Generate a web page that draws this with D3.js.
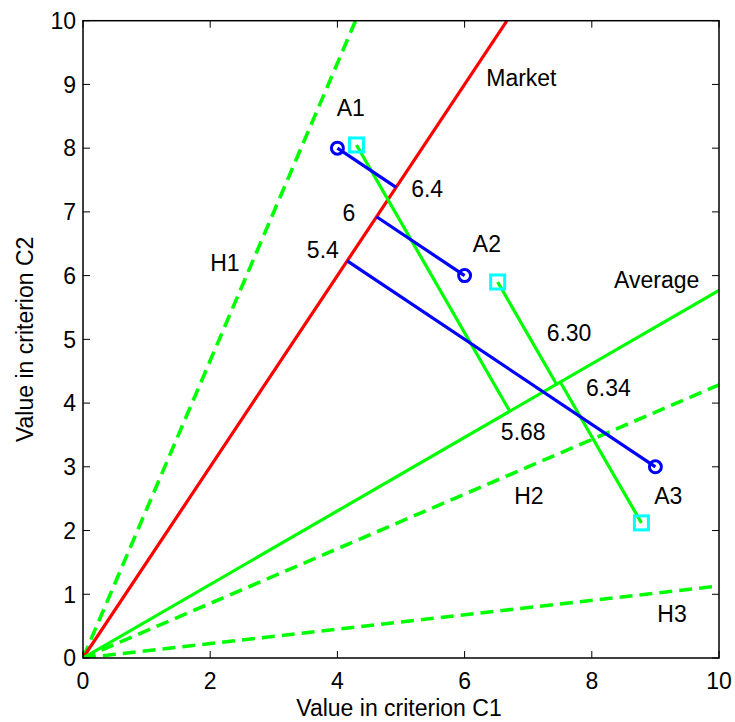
<!DOCTYPE html>
<html>
<head>
<meta charset="utf-8">
<script src="https://cdn.jsdelivr.net/npm/d3@7"></script>
<style>
  html, body { margin: 0; padding: 0; background: #fff; }
  svg { display: block; }
  text { font-family: Arial, "Liberation Sans", sans-serif; fill: #000; }
</style>
</head>
<body>
<svg id="chart" width="735" height="722"></svg>
<script>
// Alternatives in criterion space (C1, C2)
const altNames = ["A1", "A2", "A3"];
const altC1 = [4, 6, 9];
const altC2 = [8, 6, 3];

// Re-evaluated alternatives (squares)
const sqC1 = [4.3, 6.52, 8.78];
const sqC2 = [8.05, 5.9, 2.12];

// Rays through the origin: slope C2/C1
const rayNames = ["H1", "Market", "Average", "H2", "H3"];
const raySlopes = [7 / 3, 1.5, 0.577, 3 / 7, 0.113];
const rayColors = ["#00ff00", "#ff0000", "#00ff00", "#00ff00", "#00ff00"];
const rayDashed = [true, false, false, true, true];

// Weighted scores shown along the projections
const marketScores = ["6.4", "6", "5.4"];
const averageScores = ["5.68", "6.30", "6.34"];

// Annotation positions (data units)
const labelText = ["H1", "Market", "A1", "A2", "A3", "Average", "H2", "H3",
                   "6.4", "6", "5.4", "5.68", "6.30", "6.34"];
const labelX = [2.0, 6.34, 3.99, 6.13, 8.98, 8.35, 6.78, 9.03,
                5.16, 4.08, 3.52, 6.57, 7.29, 7.91];
const labelY = [6.21, 9.10, 8.63, 6.5, 2.54, 5.93, 2.54, 0.69,
                7.36, 6.98, 6.40, 3.55, 5.10, 4.24];

const ticks = [0, 2, 4, 6, 8, 10];
const yTicks = [0, 1, 2, 3, 4, 5, 6, 7, 8, 9, 10];

const pL = 83, pR = 719, pT = 20.7, pB = 658;
const x = d3.scaleLinear().domain([0, 10]).range([pL, pR]);
const y = d3.scaleLinear().domain([0, 10]).range([pB, pT]);
const fs = 23;

const svg = d3.select("#chart");

svg.append("defs").append("clipPath").attr("id", "plotclip")
  .append("rect").attr("x", pL).attr("y", pT)
  .attr("width", pR - pL).attr("height", pB - pT);

const plot = svg.append("g").attr("clip-path", "url(#plotclip)");

// Rays
raySlopes.forEach((s, i) => {
  const xe = Math.min(10, 10 / s);
  plot.append("line")
    .attr("x1", x(0)).attr("y1", y(0))
    .attr("x2", x(xe)).attr("y2", y(s * xe))
    .attr("stroke", rayColors[i])
    .attr("stroke-width", rayDashed[i] ? 3.6 : 3.2)
    .attr("stroke-dasharray", rayDashed[i] ? "13,7" : null);
});

// Orthogonal projection of a point onto a ray of given slope
function project(px, py, s) {
  const n = Math.hypot(1, s), dx = 1 / n, dy = s / n;
  const t = px * dx + py * dy;
  return [t * dx, t * dy];
}

// Projections of squares onto the Average ray
const avgSlope = raySlopes[2];
sqC1.forEach((c1, i) => {
  const f = project(c1, sqC2[i], avgSlope);
  plot.append("line")
    .attr("x1", x(c1)).attr("y1", y(sqC2[i]))
    .attr("x2", x(f[0])).attr("y2", y(f[1]))
    .attr("stroke", "#00ff00").attr("stroke-width", 3.2);
});

// Projections of alternatives onto the Market ray
const mktSlope = raySlopes[1];
altC1.forEach((c1, i) => {
  const f = project(c1, altC2[i], mktSlope);
  plot.append("line")
    .attr("x1", x(c1)).attr("y1", y(altC2[i]))
    .attr("x2", x(f[0])).attr("y2", y(f[1]))
    .attr("stroke", "#0000ff").attr("stroke-width", 3.2);
});

// Markers
plot.selectAll("circle.alt").data(altC1).join("circle")
  .attr("class", "alt")
  .attr("cx", d => x(d)).attr("cy", (d, i) => y(altC2[i]))
  .attr("r", 6).attr("fill", "none")
  .attr("stroke", "#0000ff").attr("stroke-width", 3);

plot.selectAll("rect.sq").data(sqC1).join("rect")
  .attr("class", "sq")
  .attr("x", d => x(d) - 7).attr("y", (d, i) => y(sqC2[i]) - 7)
  .attr("width", 14).attr("height", 14).attr("fill", "none")
  .attr("stroke", "#00ffff").attr("stroke-width", 3);

// Axes box
svg.append("rect")
  .attr("x", pL).attr("y", pT)
  .attr("width", pR - pL).attr("height", pB - pT)
  .attr("fill", "none").attr("stroke", "#000").attr("stroke-width", 1.5);

const tickLen = 7;
const axes = svg.append("g").attr("stroke", "#000").attr("stroke-width", 1);
ticks.forEach(t => {
  axes.append("line").attr("x1", x(t)).attr("x2", x(t))
    .attr("y1", pB).attr("y2", pB - tickLen);
  axes.append("line").attr("x1", x(t)).attr("x2", x(t))
    .attr("y1", pT).attr("y2", pT + tickLen);
});
yTicks.forEach(t => {
  axes.append("line").attr("y1", y(t)).attr("y2", y(t))
    .attr("x1", pL).attr("x2", pL + tickLen);
  axes.append("line").attr("y1", y(t)).attr("y2", y(t))
    .attr("x1", pR).attr("x2", pR - tickLen);
});

// Tick labels
svg.append("g").selectAll("text").data(ticks).join("text")
  .attr("x", d => x(d)).attr("y", 689)
  .attr("text-anchor", "middle").attr("font-size", fs)
  .text(d => d);
svg.append("g").selectAll("text").data(yTicks).join("text")
  .attr("x", pL - 7).attr("y", d => y(d)).attr("dy", "0.36em")
  .attr("text-anchor", "end").attr("font-size", fs)
  .text(d => d);

// Axis titles
svg.append("text")
  .attr("x", (pL + pR) / 2 - 2).attr("y", 716)
  .attr("text-anchor", "middle").attr("font-size", fs)
  .text("Value in criterion C1");
svg.append("text")
  .attr("transform", `translate(33,${(pT + pB) / 2}) rotate(-90)`)
  .attr("text-anchor", "middle").attr("font-size", fs)
  .text("Value in criterion C2");

// Annotations
svg.append("g").selectAll("text").data(labelText).join("text")
  .attr("x", (d, i) => x(labelX[i])).attr("y", (d, i) => y(labelY[i]))
  .attr("dy", "0.36em").attr("font-size", fs)
  .text(d => d);
</script>
</body>
</html>
